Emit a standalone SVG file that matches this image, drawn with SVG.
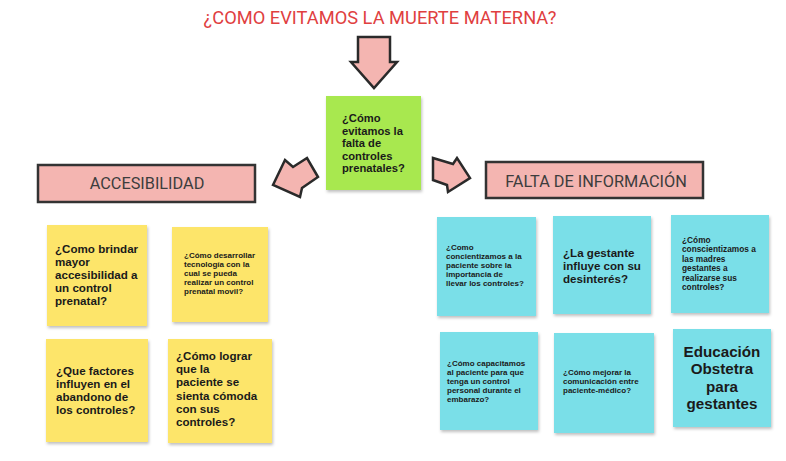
<svg xmlns="http://www.w3.org/2000/svg" width="786" height="461" viewBox="0 0 786 461">
<defs>
<filter id="sh" x="-10%" y="-10%" width="130%" height="130%">
<feDropShadow dx="1" dy="2" stdDeviation="1.5" flood-color="#000" flood-opacity="0.25"/>
</filter>
<style>
.title{font-family:Roboto,"Liberation Sans",sans-serif;font-size:18.3px;fill:#e0403f}
.hdr{fill:#f4b5b1;stroke:#333;stroke-width:2.5}
.hdrt{font-family:Roboto,"Liberation Sans",sans-serif;font-size:16.3px;fill:#3d3d3d;text-anchor:middle}
.arr{fill:#f4b5b1;stroke:#2a2a2a;stroke-width:2.5;stroke-linejoin:miter}
.y{fill:#fde56a;filter:url(#sh)}
.c{fill:#7adfe8;filter:url(#sh)}
.g{fill:#a8e84f;filter:url(#sh)}
.t{font-family:"Liberation Sans",Arial,sans-serif;font-weight:700;fill:#1a1a1a}
</style>
</defs>
<rect width="786" height="461" fill="#fff"/>
<text id="title" class="title" x="380" y="24" text-anchor="middle">¿COMO EVITAMOS LA MUERTE MATERNA?</text>

<g id="connectors">
<polygon class="arr" points="358,37 390,37 390,62 397,62 374,88 351,62 358,62"/>
<polygon class="arr" points="273,185 285,160 293,167 307,158 318,177 302,188 300,197"/>
<polygon class="arr" points="433,158 453,164 457,158 470,178 448,192 447,185 433,180"/>
</g>

<g id="center">
<rect class="g" x="326" y="96" width="95" height="94"/>
<text class="t" font-size="11.2"><tspan x="342" y="122">¿Cómo</tspan><tspan x="342" y="134.6">evitamos la</tspan><tspan x="342" y="147.2">falta de</tspan><tspan x="342" y="159.8">controles</tspan><tspan x="342" y="172.4">prenatales?</tspan></text>
</g>

<g id="accesibilidad">
<rect class="hdr" x="38" y="165" width="217" height="37"/>
<text class="hdrt" x="147" y="189">ACCESIBILIDAD</text>
</g>

<g id="falta-informacion">
<rect class="hdr" x="486" y="162" width="217" height="36"/>
<text class="hdrt" x="596" y="187">FALTA DE INFORMACIÓN</text>
</g>

<g id="y1">
<rect class="y" x="47" y="225" width="100" height="101"/>
<text class="t" font-size="11.6"><tspan x="55" y="253">¿Como brindar</tspan><tspan x="55" y="266">mayor</tspan><tspan x="55" y="279">accesibilidad a</tspan><tspan x="55" y="292">un control</tspan><tspan x="55" y="305">prenatal?</tspan></text>
</g>
<g id="y2">
<rect class="y" x="172" y="227" width="96" height="95"/>
<text class="t" font-size="8"><tspan x="184" y="258">¿Cómo desarrollar</tspan><tspan x="184" y="267">tecnología con la</tspan><tspan x="184" y="276">cual se pueda</tspan><tspan x="184" y="285">realizar un control</tspan><tspan x="184" y="294">prenatal movil?</tspan></text>
</g>
<g id="y3">
<rect class="y" x="46" y="339" width="102" height="103"/>
<text class="t" font-size="11.6"><tspan x="56" y="375">¿Que factores</tspan><tspan x="56" y="388">influyen en el</tspan><tspan x="56" y="401">abandono de</tspan><tspan x="56" y="414">los controles?</tspan></text>
</g>
<g id="y4">
<rect class="y" x="168" y="339" width="104" height="104"/>
<text class="t" font-size="11.6"><tspan x="176" y="360">¿Cómo lograr</tspan><tspan x="176" y="373.2">que la</tspan><tspan x="176" y="386.4">paciente se</tspan><tspan x="176" y="399.6">sienta cómoda</tspan><tspan x="176" y="412.8">con sus</tspan><tspan x="176" y="426">controles?</tspan></text>
</g>

<g id="c1">
<rect class="c" x="437" y="217" width="99" height="99"/>
<text class="t" font-size="8"><tspan x="446" y="250">¿Como</tspan><tspan x="446" y="259">concientizamos a la</tspan><tspan x="446" y="268">paciente sobre la</tspan><tspan x="446" y="277">importancia de</tspan><tspan x="446" y="286">llevar los controles?</tspan></text>
</g>
<g id="c2">
<rect class="c" x="553" y="216" width="98" height="98"/>
<text class="t" font-size="11.6"><tspan x="563" y="257">¿La gestante</tspan><tspan x="563" y="270">influye con su</tspan><tspan x="563" y="283">desinterés?</tspan></text>
</g>
<g id="c3">
<rect class="c" x="671" y="215" width="98" height="98"/>
<text class="t" font-size="8.3"><tspan x="682" y="243">¿Cómo</tspan><tspan x="682" y="252.4">conscientizamos a</tspan><tspan x="682" y="261.8">las madres</tspan><tspan x="682" y="271.2">gestantes a</tspan><tspan x="682" y="280.6">realizarse sus</tspan><tspan x="682" y="290">controles?</tspan></text>
</g>
<g id="c4">
<rect class="c" x="440" y="332" width="98" height="98"/>
<text class="t" font-size="8"><tspan x="447" y="366">¿Cómo capacitamos</tspan><tspan x="447" y="375">al paciente para que</tspan><tspan x="447" y="384">tenga un control</tspan><tspan x="447" y="393">personal durante el</tspan><tspan x="447" y="402">embarazo?</tspan></text>
</g>
<g id="c5">
<rect class="c" x="554" y="333" width="100" height="100"/>
<text class="t" font-size="8"><tspan x="563" y="375">¿Cómo mejorar la</tspan><tspan x="563" y="384">comunicación entre</tspan><tspan x="563" y="393">paciente-médico?</tspan></text>
</g>
<g id="c6">
<rect class="c" x="673" y="329" width="98" height="98"/>
<text class="t" font-size="15.2" text-anchor="middle"><tspan x="722" y="357">Educación</tspan><tspan x="722" y="374">Obstetra</tspan><tspan x="722" y="391.5">para</tspan><tspan x="722" y="409">gestantes</tspan></text>
</g>
</svg>
